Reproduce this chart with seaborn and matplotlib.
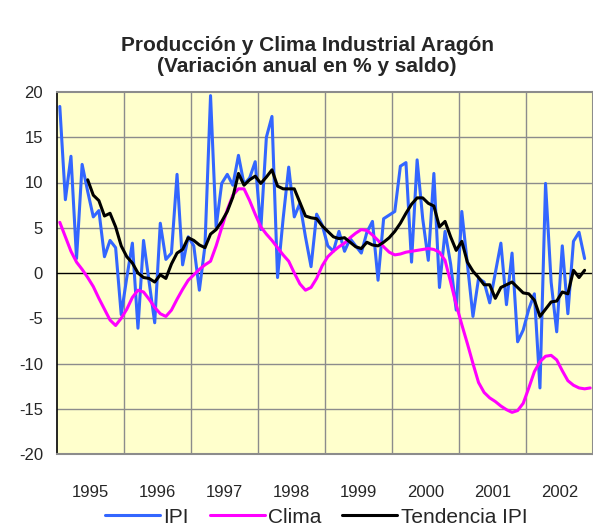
import numpy as np
import pandas as pd
import matplotlib.pyplot as plt
import seaborn as sns

# ------------------------- Data (monthly, Jan 1995 - Dec 2002) -------------------------
years = ["1995", "1996", "1997", "1998", "1999", "2000", "2001", "2002"]

ipi = [18.4, 8.1, 12.9, 1.6, 12.0, 9.0, 6.2, 6.9, 1.8, 3.6,
       2.8, -4.6, -0.5, 3.3, -6.1, 3.6, -1.0, -5.5, 5.5, 1.5,
       2.2, 10.9, 0.9, 4.0, 3.0, -1.9, 3.0, 19.6, 5.1, 9.9,
       10.9, 9.7, 13.0, 9.8, 10.5, 12.3, 4.8, 15.0, 17.3, -0.5,
       6.0, 11.7, 6.2, 7.7, 4.0, 0.7, 6.5, 5.3, 3.0, 2.4,
       4.6, 2.4, 3.8, 3.0, 2.2, 4.5, 5.7, -0.8, 6.0, 6.4,
       6.8, 11.8, 12.2, 1.2, 12.5, 6.0, 1.4, 11.0, -1.6, 4.6,
       1.0, -4.1, 6.8, 1.0, -4.8, -0.6, -1.0, -3.3, 0.0, 3.3,
       -3.5, 2.2, -7.6, -6.3, -4.0, -2.3, -12.7, 9.9, -1.0, -6.5,
       3.0, -4.5, 3.5, 4.5, 1.6]

clima = [5.6, 4.0, 2.4, 1.2, 0.4, -0.5, -1.5, -2.8, -4.0, -5.2,
         -5.8, -5.0, -4.0, -2.7, -1.9, -2.1, -2.9, -3.8, -4.5, -4.8,
         -4.1, -2.9, -1.8, -0.8, -0.2, 0.4, 0.9, 1.3, 3.0, 5.0,
         7.0, 8.6, 9.3, 9.3, 8.0, 6.5, 5.1, 4.3, 3.6, 2.8,
         2.0, 1.3, 0.0, -1.2, -1.9, -1.6, -0.6, 0.8, 1.8, 2.4,
         2.9, 3.3, 3.9, 4.4, 4.8, 4.7, 4.2, 3.6, 2.9, 2.3,
         2.0, 2.1, 2.3, 2.4, 2.5, 2.6, 2.7, 2.6, 2.3, 1.4,
         -1.0, -3.5, -5.7, -7.8, -10.0, -12.1, -13.2, -13.8, -14.2, -14.7,
         -15.1, -15.4, -15.2, -14.4, -12.7, -10.9, -9.8, -9.2, -9.1, -9.6,
         -10.8, -11.9, -12.4, -12.7, -12.8, -12.7]

# trend starts in June 1995 (month index 5)
tendencia = [10.3, 8.6, 8.0, 6.3, 6.6, 5.1, 3.0, 1.8, 1.1, 0.0,
             -0.5, -0.6, -1.0, -0.2, -0.6, 1.0, 2.2, 2.6, 3.9, 3.6,
             3.1, 2.8, 4.3, 4.8, 5.7, 6.8, 8.4, 11.0, 9.7, 10.3,
             10.7, 9.9, 10.6, 11.4, 9.6, 9.3, 9.3, 9.3, 7.8, 6.3,
             6.1, 6.0, 5.2, 4.6, 4.0, 3.8, 3.9, 3.4, 2.9, 2.7,
             3.4, 3.1, 3.0, 3.4, 3.9, 4.6, 5.5, 6.6, 7.6, 8.3,
             8.3, 7.7, 7.4, 5.1, 5.7, 4.0, 2.5, 3.5, 1.2, 0.2,
             -0.5, -1.3, -1.3, -2.8, -1.6, -1.3, -1.0, -1.6, -2.2, -2.3,
             -3.0, -4.8, -4.0, -3.2, -3.1, -2.1, -2.3, 0.3, -0.5, 0.3]
trend_start = 5

# month positions, centred inside each category slot
x_ipi = np.arange(len(ipi)) + 0.5
x_clima = np.arange(len(clima)) + 0.5
x_trend = np.arange(len(tendencia)) + trend_start + 0.5

# ------------------------- Plot -------------------------
sns.set_style("white")
plt.rcParams['font.family'] = ['Liberation Sans', 'DejaVu Sans']
plt.rcParams['axes.unicode_minus'] = False

fig = plt.figure(figsize=(5.93, 5.32), dpi=100)
ax = fig.add_axes([57 / 593, 1 - 454 / 532, 1 - 57 / 593, (454 - 92) / 532])
ax.set_facecolor('#FFFFCC')

sns.lineplot(x=x_ipi, y=ipi, ax=ax, color='#3366FF', lw=2.2, label='IPI')
sns.lineplot(x=x_clima, y=clima, ax=ax, color='#FF00FF', lw=2.2, label='Clima')
sns.lineplot(x=x_trend, y=tendencia, ax=ax, color='black', lw=2.2, label='Tendencia IPI')
for ln in ax.get_lines():
    ln.set_solid_joinstyle('round')
    ln.set_solid_capstyle('round')

ax.set_xlim(0, 96)
ax.set_ylim(-20, 20)
ax.set_yticks(np.arange(-20, 21, 5))
ax.set_xticks(np.arange(6, 96, 12))
ax.set_xticklabels(years)

# grid: horizontal on major y, vertical on year boundaries
ax.grid(False)
for yv in np.arange(-15, 20, 5):
    if yv == 0:
        continue
    ax.axhline(yv, color='#8C8C8C', lw=1, zorder=0.5)
for xv in np.arange(12, 96, 12):
    ax.axvline(xv, color='#8C8C8C', lw=1, zorder=0.5)
ax.axhline(0, color='black', lw=1, zorder=0.6)

for side in ['top', 'bottom', 'right']:
    ax.spines[side].set_color('#8C8C8C')
    ax.spines[side].set_linewidth(1.5)
ax.spines['left'].set_color('black')
ax.spines['left'].set_linewidth(1.2)

ax.tick_params(axis='y', which='major', direction='inout', length=8, width=1,
               color='black', labelsize=12, pad=6)
ax.tick_params(axis='x', which='both', length=0, labelsize=12, pad=22)
ax.set_xlabel('')
ax.set_ylabel('')

fig.text(0.518, 0.895, "Producción y Clima Industrial Aragón\n(Variación anual en % y saldo)",
         ha='center', va='center', fontsize=15, fontweight='bold', linespacing=1.15)

ax.get_legend().remove()
handles, labels = ax.get_legend_handles_labels()
fig.legend(handles, labels, loc='lower center', bbox_to_anchor=(0.533, -0.025), ncol=3,
           frameon=False, fontsize=15, handlelength=2.65, columnspacing=1.0,
           handletextpad=0.15)

plt.savefig('out.png', dpi=100)
plt.close()
